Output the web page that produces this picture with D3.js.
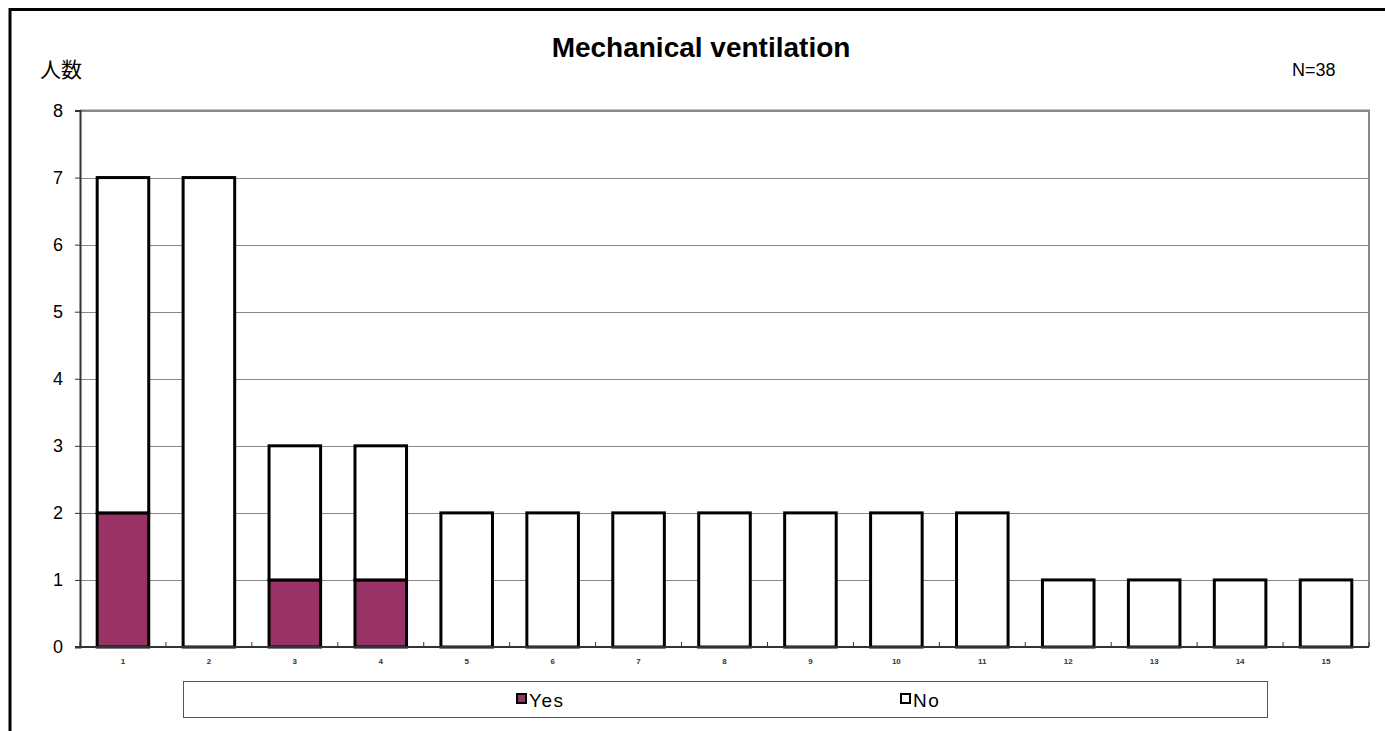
<!DOCTYPE html>
<html><head><meta charset="utf-8">
<script src="https://cdn.jsdelivr.net/npm/d3@7"></script>
<style>html,body{margin:0;padding:0;background:#fff;overflow:hidden}</style>
</head><body>
<svg id="c" width="1385" height="731"></svg>
<script>
const categories = ["1","2","3","4","5","6","7","8","9","10","11","12","13","14","15"];
const yesValues = [2,0,1,1,0,0,0,0,0,0,0,0,0,0,0];
const noValues  = [5,7,2,2,2,2,2,2,2,2,2,1,1,1,1];
const seriesNames = ["Yes","No"];
const seriesColors = ["#993366","#ffffff"];
const yTicks = [0,1,2,3,4,5,6,7,8];

const svg = d3.select("#c");
const font = "'Liberation Sans', Arial, sans-serif";
// outer frame
svg.append("rect").attr("x",10).attr("y",9.5).attr("width",1400).attr("height",800)
  .attr("fill","none").attr("stroke","#000").attr("stroke-width",3);

const L=80, T=110.5, R=1369, B=647;
const x = d3.scaleBand().domain(categories).range([L,R]).paddingInner(0.4).paddingOuter(0.2);
const xb = d3.scaleBand().domain(categories).range([L,R]);
const y = d3.scaleLinear().domain([0,8]).range([B,T]);

// gridlines
svg.append("g").selectAll("line").data(yTicks.filter(d=>d>0)).join("line")
  .attr("x1",L).attr("x2",R).attr("y1",d=>Math.round(y(d))+0.5).attr("y2",d=>Math.round(y(d))+0.5)
  .attr("stroke","#888").attr("stroke-width",1);
// plot border top/right
svg.append("path").attr("d",`M${L},${T}H${R}V${B}`).attr("fill","none").attr("stroke","#888").attr("stroke-width",2);

const data = categories.map((c,i)=>({c, yes:yesValues[i], no:noValues[i]}));
const stack = d3.stack().keys(["yes","no"])(data);
stack.forEach((s,si)=>{
  svg.append("g").selectAll("rect").data(s.filter(d=>d[1]-d[0]>0)).join("rect")
    .attr("x",d=>x(d.data.c)).attr("width",x.bandwidth())
    .attr("y",d=>y(d[1])).attr("height",d=>y(d[0])-y(d[1]))
    .attr("fill",seriesColors[si]).attr("stroke","#000").attr("stroke-width",3);
});

// axes
const yAxis = d3.axisLeft(y).tickValues(yTicks).tickSize(5).tickPadding(12);
const gy = svg.append("g").attr("transform",`translate(${L},0)`).call(yAxis);
gy.select(".domain").attr("stroke","#333").attr("stroke-width",2);
gy.selectAll(".tick line").attr("stroke","#333");
gy.selectAll("text").attr("font-family",font).attr("font-size",18).attr("fill","#000");

const gx = svg.append("g").attr("transform",`translate(0,${B})`);
gx.append("line").attr("x1",L-5).attr("x2",R).attr("y1",0).attr("y2",0).attr("stroke","#333").attr("stroke-width",2);
gx.selectAll("line.t").data(categories.concat(["end"])).join("line").attr("class","t")
  .attr("x1",(d,i)=>L+i*xb.bandwidth()).attr("x2",(d,i)=>L+i*xb.bandwidth())
  .attr("y1",0).attr("y2",-5).attr("stroke","#333");
gx.selectAll("text").data(categories).join("text")
  .attr("x",d=>xb(d)+xb.bandwidth()/2).attr("y",17).attr("text-anchor","middle")
  .attr("font-family",font).attr("font-size",8).attr("font-weight","bold").attr("fill","#333").text(d=>d);

// title and labels
svg.append("text").attr("x",701).attr("y",57).attr("text-anchor","middle")
  .attr("font-family",font).attr("font-size",28).attr("font-weight","bold").text("Mechanical ventilation");
svg.append("text").attr("x",40).attr("y",77).attr("font-family","'Noto Sans CJK JP', sans-serif")
  .attr("font-size",21).text("人数");
svg.append("text").attr("x",1292).attr("y",76).attr("font-family",font).attr("font-size",18).text("N=38");

// legend
svg.append("rect").attr("x",183.5).attr("y",681.5).attr("width",1084).attr("height",36)
  .attr("fill","#fff").attr("stroke","#555").attr("stroke-width",1);
const legX=[516,900];
seriesNames.forEach((n,i)=>{
  svg.append("rect").attr("x",legX[i]+1).attr("y",694).attr("width",9).attr("height",9)
    .attr("fill",seriesColors[i]).attr("stroke","#000").attr("stroke-width",2);
  svg.append("text").attr("x",legX[i]+13).attr("y",707).attr("font-family",font)
    .attr("font-size",19).attr("letter-spacing",1.5).text(n);
});
</script>
</body></html>
